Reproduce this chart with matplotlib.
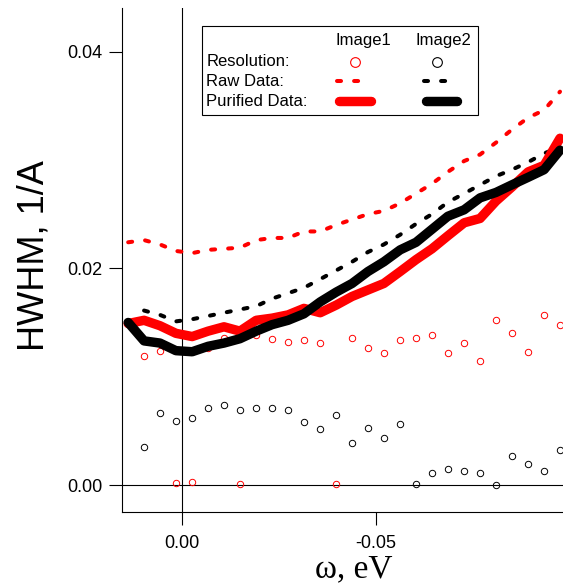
import matplotlib
matplotlib.use("Agg")
import matplotlib.pyplot as plt
from matplotlib.lines import Line2D
from matplotlib.patches import Rectangle

plt.rcParams["font.family"] = ["Liberation Sans", "DejaVu Sans"]
plt.rcParams["lines.scale_dashes"] = False

# energy grid, eV (k = 0..27)
omega = [0.0138, 0.0097, 0.0056, 0.0015, -0.0027, -0.0068, -0.0109, -0.0150,
         -0.0192, -0.0233, -0.0274, -0.0315, -0.0357, -0.0398, -0.0439, -0.0480,
         -0.0521, -0.0563, -0.0604, -0.0645, -0.0686, -0.0728, -0.0769, -0.0810,
         -0.0851, -0.0893, -0.0934, -0.0975]

# resolution (k = 1..27)
omega_res = omega[1:]
res_img1 = [0.0119, 0.0124, 0.0002, 0.0003, 0.0126, 0.0136, 0.0001, 0.0138,
            0.0135, 0.0132, 0.0134, 0.0131, 0.0001, 0.0136, 0.0126, 0.0122,
            0.0134, 0.0136, 0.0138, 0.0122, 0.0131, 0.0114, 0.0152, 0.0140,
            0.0123, 0.0157, 0.0148]
res_img2 = [0.0035, 0.0066, 0.0059, 0.0062, 0.0071, 0.0074, 0.0069, 0.0071,
            0.0071, 0.0069, 0.0058, 0.0052, 0.0065, 0.0039, 0.0053, 0.0043,
            0.0056, 0.0001, 0.0011, 0.0015, 0.0013, 0.0011, 0.0000, 0.0027,
            0.0019, 0.0013, 0.0032]

raw_img1 = [0.0224, 0.0226, 0.0222, 0.0216, 0.0214, 0.0217, 0.0218, 0.0219,
            0.0226, 0.0228, 0.0228, 0.0234, 0.0234, 0.0240, 0.0245, 0.0250,
            0.0253, 0.0260, 0.0269, 0.0278, 0.0289, 0.0299, 0.0305, 0.0316,
            0.0328, 0.0339, 0.0346, 0.0363]
# raw image2 starts at k = 1
raw_img2 = [0.0161, 0.0157, 0.0151, 0.0153, 0.0156, 0.0159, 0.0162, 0.0165,
            0.0172, 0.0177, 0.0182, 0.0190, 0.0198, 0.0206, 0.0215, 0.0222,
            0.0231, 0.0241, 0.0250, 0.0261, 0.0269, 0.0277, 0.0285, 0.0291,
            0.0298, 0.0306, 0.0312]

pur_img1 = [0.0149, 0.0152, 0.0147, 0.0140, 0.0137, 0.0142, 0.0146, 0.0142,
            0.0152, 0.0154, 0.0157, 0.0163, 0.0159, 0.0166, 0.0174, 0.0180,
            0.0186, 0.0197, 0.0208, 0.0218, 0.0230, 0.0242, 0.0246, 0.0262,
            0.0275, 0.0289, 0.0295, 0.0320]
pur_img2 = [0.0150, 0.0133, 0.0131, 0.0124, 0.0123, 0.0128, 0.0131, 0.0135,
            0.0142, 0.0148, 0.0152, 0.0158, 0.0169, 0.0178, 0.0186, 0.0197,
            0.0206, 0.0217, 0.0224, 0.0236, 0.0248, 0.0254, 0.0265, 0.0270,
            0.0277, 0.0284, 0.0291, 0.0309]

W, H = 563, 583
fig = plt.figure(figsize=(W / 100, H / 100), dpi=100)
ax = fig.add_axes([122 / W, 1 - 512 / H, (563 - 122) / W, (512 - 8) / H])


def px(x, y):
    return x / W, 1 - y / H


red = "#ff0000"
black = "#000000"
raw_lw = 2.9
pur_lw = 6.8
dash = (0, (2.9, 9.4))

ax.axvline(0, color=black, lw=0.8, zorder=1)
ax.axhline(0, color=black, lw=0.8, zorder=1)

ax.plot(omega_res, res_img1, ls="none", marker="o", ms=4.6, mfc="none",
        mec=red, mew=0.7, zorder=2)
ax.plot(omega_res, res_img2, ls="none", marker="o", ms=4.6, mfc="none",
        mec=black, mew=0.7, zorder=2)

ax.plot(omega, raw_img1, color=red, lw=raw_lw, ls=dash, dash_capstyle="round", zorder=3)
ax.plot(omega[1:], raw_img2, color=black, lw=raw_lw, ls=dash, dash_capstyle="round", zorder=3)
ax.plot(omega, pur_img1, color=red, lw=pur_lw, solid_capstyle="round",
        solid_joinstyle="round", zorder=4)
ax.plot(omega, pur_img2, color=black, lw=pur_lw, solid_capstyle="round",
        solid_joinstyle="round", zorder=5)

ax.set_xlim(0.01539, -0.09827)
ax.set_ylim(-0.00249, 0.04402)
ax.set_xticks([0.0, -0.05])
ax.set_xticklabels(["0.00", "-0.05"])
ax.set_yticks([0.0, 0.02, 0.04])
ax.set_yticklabels(["0.00", "0.02", "0.04"])
ax.tick_params(direction="out", length=9.4, width=0.8, labelsize=13, pad=5)
ax.tick_params(axis="x", pad=7)
for s in ["top", "right"]:
    ax.spines[s].set_visible(False)
for s in ["left", "bottom"]:
    ax.spines[s].set_linewidth(0.8)

fig.text(*px(34, 256), "HWHM, 1/A", rotation=90, ha="center", va="center",
         fontsize=26)
fig.text(*px(354, 577), "\u03c9, eV", ha="center", va="baseline", fontsize=24,
         family=["Liberation Serif", "DejaVu Serif"])

# legend table
x0, y0 = px(201.7, 115)
x1, y1 = px(477.7, 25.7)
fig.add_artist(Rectangle((x0, y0), x1 - x0, y1 - y0, transform=fig.transFigure,
                         fill=True, facecolor="white", edgecolor=black, lw=0.8,
                         zorder=10))
fig.text(*px(363, 41), "Image1", ha="center", va="center", fontsize=12, zorder=11)
fig.text(*px(443, 41), "Image2", ha="center", va="center", fontsize=12, zorder=11)
fig.text(*px(206.5, 61.5), "Resolution:", ha="left", va="center", fontsize=12, zorder=11)
fig.text(*px(206.5, 81.5), "Raw Data:", ha="left", va="center", fontsize=12, zorder=11)
fig.text(*px(206.5, 101.5), "Purified Data:", ha="left", va="center", fontsize=12, zorder=11)

for cx, col in [(355, red), (437, black)]:
    fig.add_artist(Line2D([cx / W], [px(0, 61.5)[1]], transform=fig.transFigure,
                          ls="none", marker="o", ms=7, mfc="none", mec=col,
                          mew=0.8, zorder=11))
for xs, col in [((337, 359), red), ((423.5, 445.5), black)]:
    fig.add_artist(Line2D([xs[0] / W, xs[1] / W], [px(0, 81.5)[1]] * 2,
                          transform=fig.transFigure, color=col, lw=raw_lw, ls=dash,
                          dash_capstyle="round", zorder=11))
for xs, col in [((339, 370.5), red), ((425.5, 457), black)]:
    fig.add_artist(Line2D([xs[0] / W, xs[1] / W], [px(0, 101)[1]] * 2,
                          transform=fig.transFigure, color=col, lw=pur_lw,
                          solid_capstyle="round", zorder=11))

fig.savefig("out.png", dpi=100)
